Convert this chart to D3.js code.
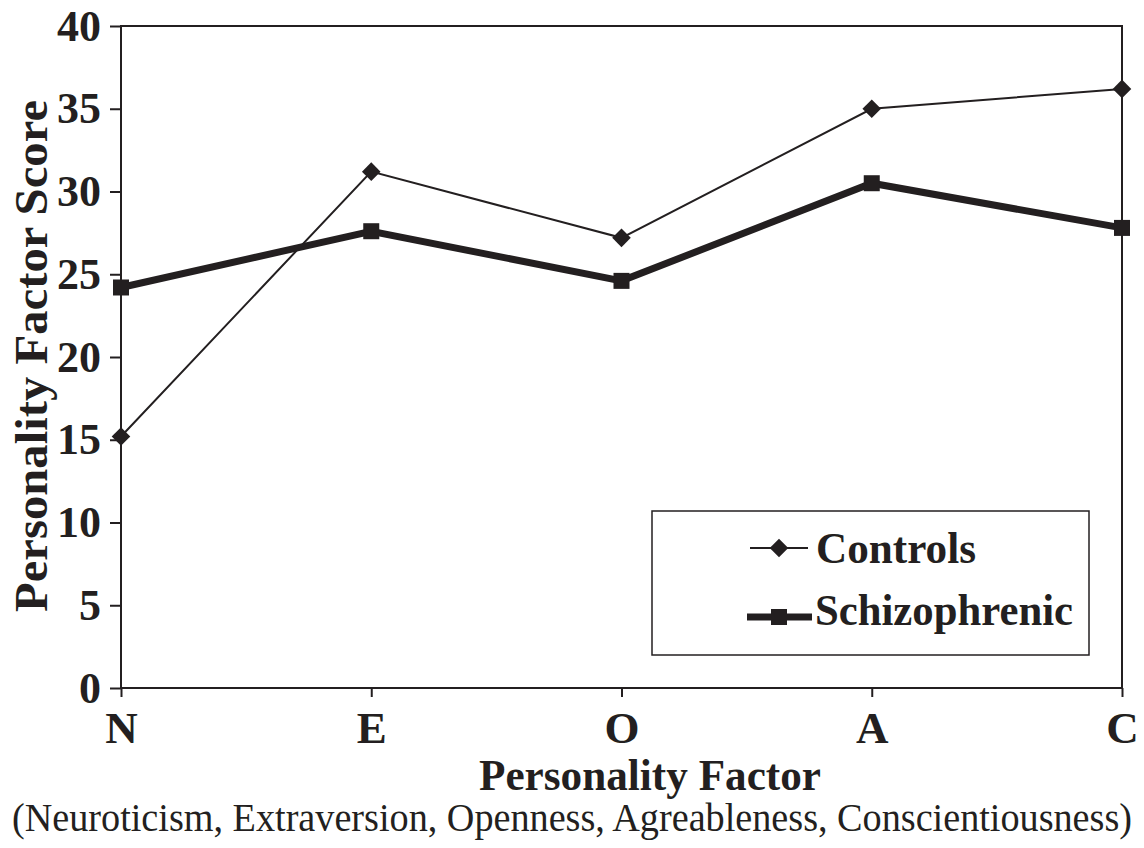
<!DOCTYPE html>
<html>
<head>
<meta charset="utf-8">
<script src="https://cdn.jsdelivr.net/npm/d3@7"></script>
<style>
  body { margin: 0; background: #fff; }
  text { font-family: "Liberation Serif", "Times New Roman", serif; fill: #231f20; }
</style>
</head>
<body>
<script>
// categories (personality factors)
var factors = ["N", "E", "O", "A", "C"];
// mean scores
var controls = [15.2, 31.2, 27.2, 35.0, 36.2];
var schizophrenic = [24.2, 27.6, 24.6, 30.5, 27.8];
var yTicks = [0, 5, 10, 15, 20, 25, 30, 35, 40];

var ink = "#231f20";
var margin = {top: 26, right: 22, bottom: 160, left: 121},
    width = 1144 - margin.left - margin.right,
    height = 848 - margin.top - margin.bottom;

var svg = d3.select("body").append("svg")
    .attr("width", 1144)
    .attr("height", 848);

var g = svg.append("g")
    .attr("transform", "translate(" + margin.left + "," + margin.top + ")");

var xScale = d3.scalePoint().domain(factors).range([0, width]).padding(0);
var yScale = d3.scaleLinear().domain([0, 40]).range([height, 0]);

// plot frame
g.append("rect")
    .attr("width", width)
    .attr("height", height)
    .attr("fill", "none")
    .attr("stroke", ink)
    .attr("stroke-width", 2);

// y axis
var yAxis = g.append("g")
    .call(d3.axisLeft(yScale).tickValues(yTicks).tickSize(11).tickPadding(9));
yAxis.select(".domain").remove();
yAxis.selectAll("line").attr("stroke", ink).attr("stroke-width", 2);
yAxis.selectAll("text")
    .attr("font-family", "Liberation Serif")
    .attr("font-weight", "bold")
    .attr("font-size", 44)
    .attr("fill", ink);

// x axis
var xAxis = g.append("g")
    .attr("transform", "translate(0," + height + ")")
    .call(d3.axisBottom(xScale).tickSize(9).tickPadding(14));
xAxis.select(".domain").remove();
xAxis.selectAll("line").attr("stroke", ink).attr("stroke-width", 2);
xAxis.selectAll("text")
    .attr("font-family", "Liberation Serif")
    .attr("font-weight", "bold")
    .attr("font-size", 45)
    .attr("fill", ink);

var line = d3.line()
    .x(function(d, i) { return xScale(factors[i]); })
    .y(function(d) { return yScale(d); });

// controls: thin line, diamonds
g.append("path")
    .datum(controls)
    .attr("d", line)
    .attr("fill", "none")
    .attr("stroke", ink)
    .attr("stroke-width", 2);

var diamond = d3.symbol().type(d3.symbolDiamond2).size(220);
g.selectAll(".ctl")
    .data(controls)
    .enter().append("path")
    .attr("class", "ctl")
    .attr("d", diamond)
    .attr("transform", function(d, i) {
        return "translate(" + xScale(factors[i]) + "," + yScale(d) + ")";
    })
    .attr("fill", ink);

// schizophrenic: thick line, squares
g.append("path")
    .datum(schizophrenic)
    .attr("d", line)
    .attr("fill", "none")
    .attr("stroke", ink)
    .attr("stroke-width", 7);

g.selectAll(".scz")
    .data(schizophrenic)
    .enter().append("rect")
    .attr("class", "scz")
    .attr("x", function(d, i) { return xScale(factors[i]) - 8; })
    .attr("y", function(d) { return yScale(d) - 8; })
    .attr("width", 16)
    .attr("height", 16)
    .attr("fill", ink);

// legend
var legend = svg.append("g").attr("transform", "translate(652,511)");
legend.append("rect")
    .attr("width", 437)
    .attr("height", 144)
    .attr("fill", "#fff")
    .attr("stroke", ink)
    .attr("stroke-width", 1.5);

legend.append("line")
    .attr("x1", 98).attr("x2", 156).attr("y1", 37).attr("y2", 37)
    .attr("stroke", ink).attr("stroke-width", 2);
legend.append("path")
    .attr("d", diamond)
    .attr("transform", "translate(127,37)")
    .attr("fill", ink);
legend.append("text")
    .attr("x", 164).attr("y", 52)
    .attr("font-weight", "bold")
    .attr("font-size", 44)
    .attr("textLength", 160)
    .attr("lengthAdjust", "spacingAndGlyphs")
    .text("Controls");

legend.append("line")
    .attr("x1", 95).attr("x2", 160).attr("y1", 106).attr("y2", 106)
    .attr("stroke", ink).attr("stroke-width", 7);
legend.append("rect")
    .attr("x", 119).attr("y", 98).attr("width", 16).attr("height", 16)
    .attr("fill", ink);
legend.append("text")
    .attr("x", 163).attr("y", 114)
    .attr("font-weight", "bold")
    .attr("font-size", 44)
    .attr("textLength", 258)
    .attr("lengthAdjust", "spacingAndGlyphs")
    .text("Schizophrenic");

// axis titles
svg.append("text")
    .attr("transform", "translate(47,356) rotate(-90)")
    .attr("text-anchor", "middle")
    .attr("font-weight", "bold")
    .attr("font-size", 46)
    .attr("textLength", 512)
    .attr("lengthAdjust", "spacingAndGlyphs")
    .text("Personality Factor Score");

svg.append("text")
    .attr("x", 650).attr("y", 790)
    .attr("text-anchor", "middle")
    .attr("font-weight", "bold")
    .attr("font-size", 45)
    .attr("textLength", 342)
    .attr("lengthAdjust", "spacingAndGlyphs")
    .text("Personality Factor");

svg.append("text")
    .attr("x", 572).attr("y", 831)
    .attr("text-anchor", "middle")
    .attr("font-size", 40)
    .attr("textLength", 1120)
    .attr("lengthAdjust", "spacingAndGlyphs")
    .text("(Neuroticism, Extraversion, Openness, Agreableness, Conscientiousness)");
</script>
</body>
</html>
